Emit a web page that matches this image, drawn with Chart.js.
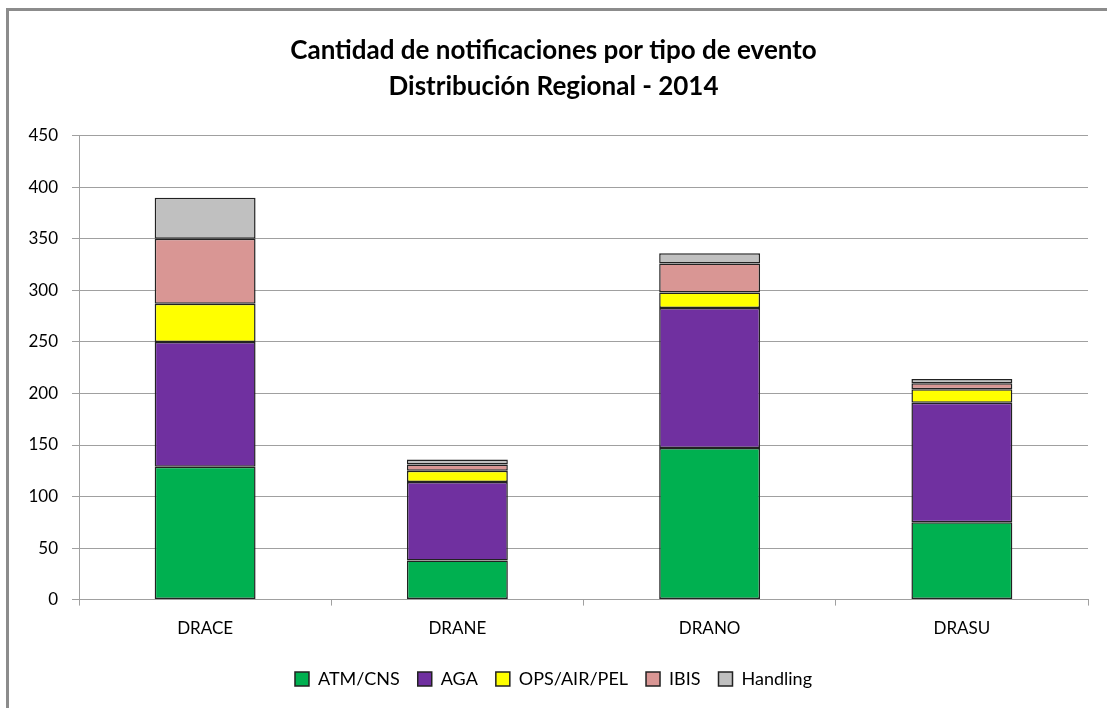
<!DOCTYPE html>
<html>
<head>
<meta charset="utf-8">
<script src="https://cdn.jsdelivr.net/npm/chart.js@4"></script>
<style>
  html, body { margin: 0; padding: 0; background: #fff; }
  #wrap { position: relative; width: 1107px; height: 708px; overflow: hidden; }
  #frame { position: absolute; left: 6px; top: 8px; width: 1120px; height: 720px;
           border: 3px solid #8c8c8c; box-sizing: border-box; pointer-events: none; }
</style>
</head>
<body>
<div id="wrap">
  <canvas id="chart" width="1107" height="708"></canvas>
  <div id="frame"></div>
</div>
<script>
const regions = ['DRACE', 'DRANE', 'DRANO', 'DRASU'];
const atmCns = [129, 38, 147, 75];
const aga = [121, 76, 136, 116];
const opsAirPel = [37, 11, 15, 13];
const ibis = [63, 6, 28, 6];
const handling = [40, 5, 10, 4];
const yTicks = [0, 50, 100, 150, 200, 250, 300, 350, 400, 450];

const FONT = 'Lato, "Open Sans", sans-serif';

function series(label, data, color) {
  return {
    label,
    data,
    backgroundColor: color,
    borderColor: '#222',
    borderWidth: 1.5,
    borderSkipped: false,
    inflateAmount: 0,
    categoryPercentage: 1.0,
    barPercentage: 0.4
  };
}

const ctx = document.getElementById('chart').getContext('2d');
new Chart(ctx, {
  type: 'bar',
  data: {
    labels: regions,
    datasets: [
      series('ATM/CNS', atmCns, '#00B050'),
      series('AGA', aga, '#7030A0'),
      series('OPS/AIR/PEL', opsAirPel, '#FFFF00'),
      series('IBIS', ibis, '#D99694'),
      series('Handling', handling, '#C0C0C0')
    ]
  },
  options: {
    responsive: false,
    animation: false,
    layout: { padding: { left: 19, right: 19, top: 32, bottom: 10 } },
    plugins: {
      title: {
        display: true,
        text: ['Cantidad de notificaciones por tipo de evento', 'Distribución Regional - 2014'],
        color: '#000',
        font: { family: FONT, size: 26, weight: 'bold', lineHeight: 1.4 },
        padding: { top: 0, bottom: 31 }
      },
      legend: {
        position: 'bottom',
        labels: {
          color: '#000',
          font: { family: FONT, size: 18 },
          boxWidth: 14,
          boxHeight: 14,
          padding: 18
        }
      },
      tooltip: { enabled: false }
    },
    scales: {
      x: {
        stacked: true,
        grid: {
          offset: true,
          drawOnChartArea: false,
          drawTicks: true,
          tickLength: 6,
          color: '#a0a0a0'
        },
        border: { color: '#a0a0a0' },
        ticks: { color: '#000', font: { family: FONT, size: 17 }, padding: 13 }
      },
      y: {
        stacked: true,
        min: 0,
        max: 450,
        afterFit: s => { s.width = 60; },
        afterBuildTicks: s => { s.ticks = yTicks.map(v => ({ value: v })); },
        grid: { color: '#a0a0a0', tickLength: 7 },
        border: { color: '#a0a0a0' },
        ticks: { color: '#000', font: { family: FONT, size: 17 }, padding: 14 }
      }
    }
  }
});
</script>
</body>
</html>
